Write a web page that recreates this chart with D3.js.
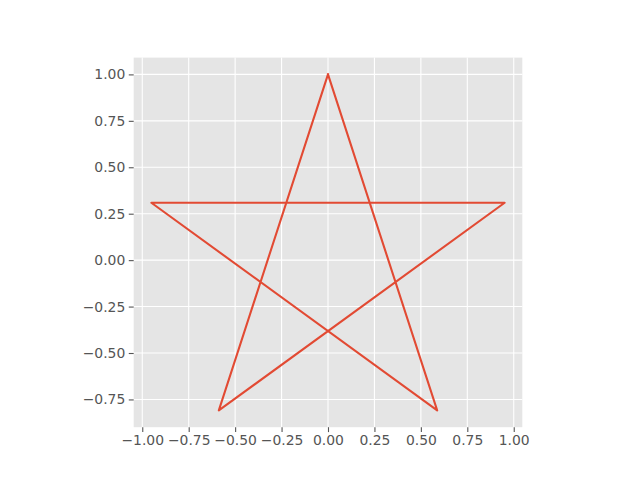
<!DOCTYPE html>
<html><head><meta charset="utf-8">
<script src="https://cdn.jsdelivr.net/npm/d3@7"></script>
<style>body{margin:0;background:#fff}svg{display:block}</style>
</head><body>
<script>
// Pentagram vertices in drawing order
const xs = [0, 0.5878, -0.9511, 0.9511, -0.5878, 0];
const ys = [1, -0.8090, 0.3090, 0.3090, -0.8090, 1];
const xTicks = [-1.0, -0.75, -0.5, -0.25, 0, 0.25, 0.5, 0.75, 1.0];
const yTicks = [-0.75, -0.5, -0.25, 0, 0.25, 0.5, 0.75, 1.0];

(function () {
const W = 640, H = 480;
const svg = d3.select("body").append("svg").attr("width", W).attr("height", H);

const xmin = d3.min(xs), xmax = d3.max(xs), ymin = d3.min(ys), ymax = d3.max(ys);
const mx = (xmax - xmin) * 0.05, my = (ymax - ymin) * 0.05;
const xd = [xmin - mx, xmax + mx], yd = [ymin - my, ymax + my];
const pTop = 57.6, pBottom = 427.2;
const ppu = (pBottom - pTop) / (yd[1] - yd[0]);
const cx = 328;
const wpx = (xd[1] - xd[0]) * ppu;
const pLeft = cx - wpx / 2, pRight = cx + wpx / 2;

const x = d3.scaleLinear().domain(xd).range([pLeft, pRight]);
const y = d3.scaleLinear().domain(yd).range([pBottom, pTop]);

svg.append("rect").attr("x", pLeft).attr("y", pTop).attr("width", pRight - pLeft).attr("height", pBottom - pTop).attr("fill", "#E5E5E5");

const g = svg.append("g");
g.selectAll(".gx").data(xTicks).join("line")
  .attr("x1", d => x(d)).attr("x2", d => x(d)).attr("y1", pTop).attr("y2", pBottom)
  .attr("stroke", "#fff").attr("stroke-width", 1.1);
g.selectAll(".gy").data(yTicks).join("line")
  .attr("y1", d => y(d)).attr("y2", d => y(d)).attr("x1", pLeft).attr("x2", pRight)
  .attr("stroke", "#fff").attr("stroke-width", 1.1);

const fmt = d => d3.format(".2f")(d).replace("-", "\u2212");
const xAxis = svg.append("g").attr("transform", `translate(0,${pBottom})`)
  .call(d3.axisBottom(x).tickValues(xTicks).tickFormat(fmt).tickSize(4.9).tickPadding(3.5));
const yAxis = svg.append("g").attr("transform", `translate(${pLeft},0)`)
  .call(d3.axisLeft(y).tickValues(yTicks).tickFormat(fmt).tickSize(4.9).tickPadding(3.5));
[xAxis, yAxis].forEach(a => {
  a.select(".domain").remove();
  a.selectAll(".tick line").attr("stroke", "#555").attr("stroke-width", 1.1);
  a.selectAll(".tick text").attr("fill", "#555").attr("font-family", "DejaVu Sans").attr("font-size", "13.9px");
});

const line = d3.line().x((d, i) => x(xs[i])).y((d, i) => y(ys[i]));
svg.append("path").datum(xs).attr("d", line).attr("fill", "none")
  .attr("stroke", "#E24A33").attr("stroke-width", 2.08).attr("stroke-linejoin", "round").attr("stroke-linecap", "square");
})();
</script>
</body></html>
